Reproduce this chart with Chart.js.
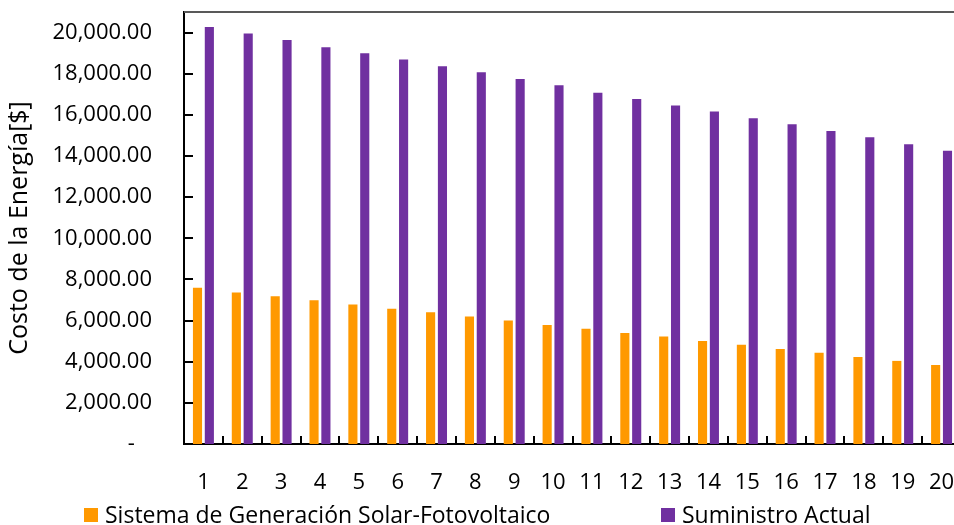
<!DOCTYPE html>
<html>
<head>
<meta charset="utf-8">
<script src="https://cdn.jsdelivr.net/npm/chart.js@4.4.1/dist/chart.umd.min.js"></script>
<style>
  html, body { margin: 0; padding: 0; background: #fff; overflow: hidden; width: 954px; height: 525px; }
  #wrap { position: absolute; left: 0; top: 0; width: 970px; height: 525px; }
</style>
</head>
<body>
<div id="wrap"><canvas id="c" width="970" height="525"></canvas></div>
<script>
// ---- data ----
const categories = ['1','2','3','4','5','6','7','8','9','10','11','12','13','14','15','16','17','18','19','20'];
const seriesNames = ['Sistema de Generación Solar-Fotovoltaico', 'Suministro Actual'];
const solarValues = [7590, 7360, 7180, 6990, 6780, 6580, 6400, 6200, 6000, 5790, 5600, 5400, 5220, 5010, 4820, 4620, 4440, 4230, 4040, 3840];
const suministroValues = [20270, 19950, 19640, 19290, 18990, 18690, 18360, 18070, 17740, 17440, 17080, 16770, 16460, 16160, 15830, 15540, 15210, 14910, 14570, 14260];
const yTickValues = [0, 2000, 4000, 6000, 8000, 10000, 12000, 14000, 16000, 18000, 20000];
const yAxisTitle = 'Costo de la Energía[$]';

const ORANGE = '#FF9900';
const PURPLE = '#7030A0';
const FONT = "'Open Sans', 'Noto Sans', sans-serif";

function fmt(v) {
  if (v === 0) return '-   ';
  return v.toLocaleString('en-US', { minimumFractionDigits: 2, maximumFractionDigits: 2 });
}

const framePlugin = {
  id: 'frame',
  afterDatasetsDraw(chart) {
    const { ctx, chartArea, scales } = chart;
    const x = scales.x, y = scales.y;
    ctx.save();
    // top border
    ctx.strokeStyle = '#595959';
    ctx.lineWidth = 2;
    ctx.beginPath();
    ctx.moveTo(chartArea.left, chartArea.top);
    ctx.lineTo(chartArea.right + 20, chartArea.top);
    ctx.stroke();
    // inward y ticks
    ctx.strokeStyle = '#000';
    ctx.lineWidth = 2;
    y.ticks.forEach(t => {
      const py = Math.round(y.getPixelForValue(t.value));
      ctx.beginPath();
      ctx.moveTo(chartArea.left, py);
      ctx.lineTo(chartArea.left + 9, py);
      ctx.stroke();
    });
    // inward x ticks at category boundaries
    const step = x.getPixelForValue(1) - x.getPixelForValue(0);
    for (let i = 1; i < categories.length; i++) {
      const px = Math.round(x.getPixelForValue(i) - step / 2);
      ctx.beginPath();
      ctx.moveTo(px, chartArea.bottom);
      ctx.lineTo(px, chartArea.bottom - 8);
      ctx.stroke();
    }
    ctx.restore();
  },
  afterDraw(chart) {
    // legend
    const { ctx } = chart;
    const opts = chart.options.plugins.frame;
    ctx.save();
    ctx.font = '23px ' + FONT;
    ctx.textBaseline = 'middle';
    ctx.textAlign = 'left';
    chart.data.datasets.forEach((ds, i) => {
      const bx = opts.legendX[i];
      const cy = opts.legendY;
      ctx.fillStyle = ds.backgroundColor;
      ctx.fillRect(bx, cy - 7, 14, 14);
      ctx.fillStyle = '#000';
      ctx.fillText(ds.label, bx + 21, cy + 1);
    });
    ctx.restore();
  }
};

new Chart(document.getElementById('c'), {
  type: 'bar',
  data: {
    labels: categories,
    datasets: [
      { label: seriesNames[0], data: solarValues, backgroundColor: ORANGE, categoryPercentage: 0.61, barPercentage: 0.77 },
      { label: seriesNames[1], data: suministroValues, backgroundColor: PURPLE, categoryPercentage: 0.61, barPercentage: 0.77 }
    ]
  },
  options: {
    responsive: false,
    animation: false,
    devicePixelRatio: 1,
    layout: { padding: { top: 12, right: 9, bottom: 0, left: 0 } },
    plugins: {
      legend: { display: false },
      tooltip: { enabled: false },
      frame: { legendX: [84, 661], legendY: 515 }
    },
    scales: {
      x: {
        grid: { display: false, drawTicks: false },
        border: { display: true, color: '#000', width: 2 },
        ticks: { color: '#000', font: { family: FONT, size: 22 }, padding: 26, maxRotation: 0, autoSkip: false },
        afterFit(s) { s.height = 81; s.paddingLeft = 0; s.paddingRight = 0; }
      },
      y: {
        min: 0,
        max: 21000,
        grid: { display: false, drawTicks: false },
        border: { display: true, color: '#000', width: 2 },
        afterBuildTicks(s) { s.ticks = yTickValues.map(v => ({ value: v })); },
        ticks: { color: '#000', font: { family: FONT, size: 22 }, padding: 32, callback: v => fmt(v) },
        title: { display: true, text: yAxisTitle, color: '#000', font: { family: FONT, size: 25 }, padding: { top: 5, bottom: 0 } },
        afterFit(s) { s.width = 184; s.paddingTop = 0; s.paddingBottom = 0; }
      }
    }
  },
  plugins: [framePlugin]
});
</script>
</body>
</html>
